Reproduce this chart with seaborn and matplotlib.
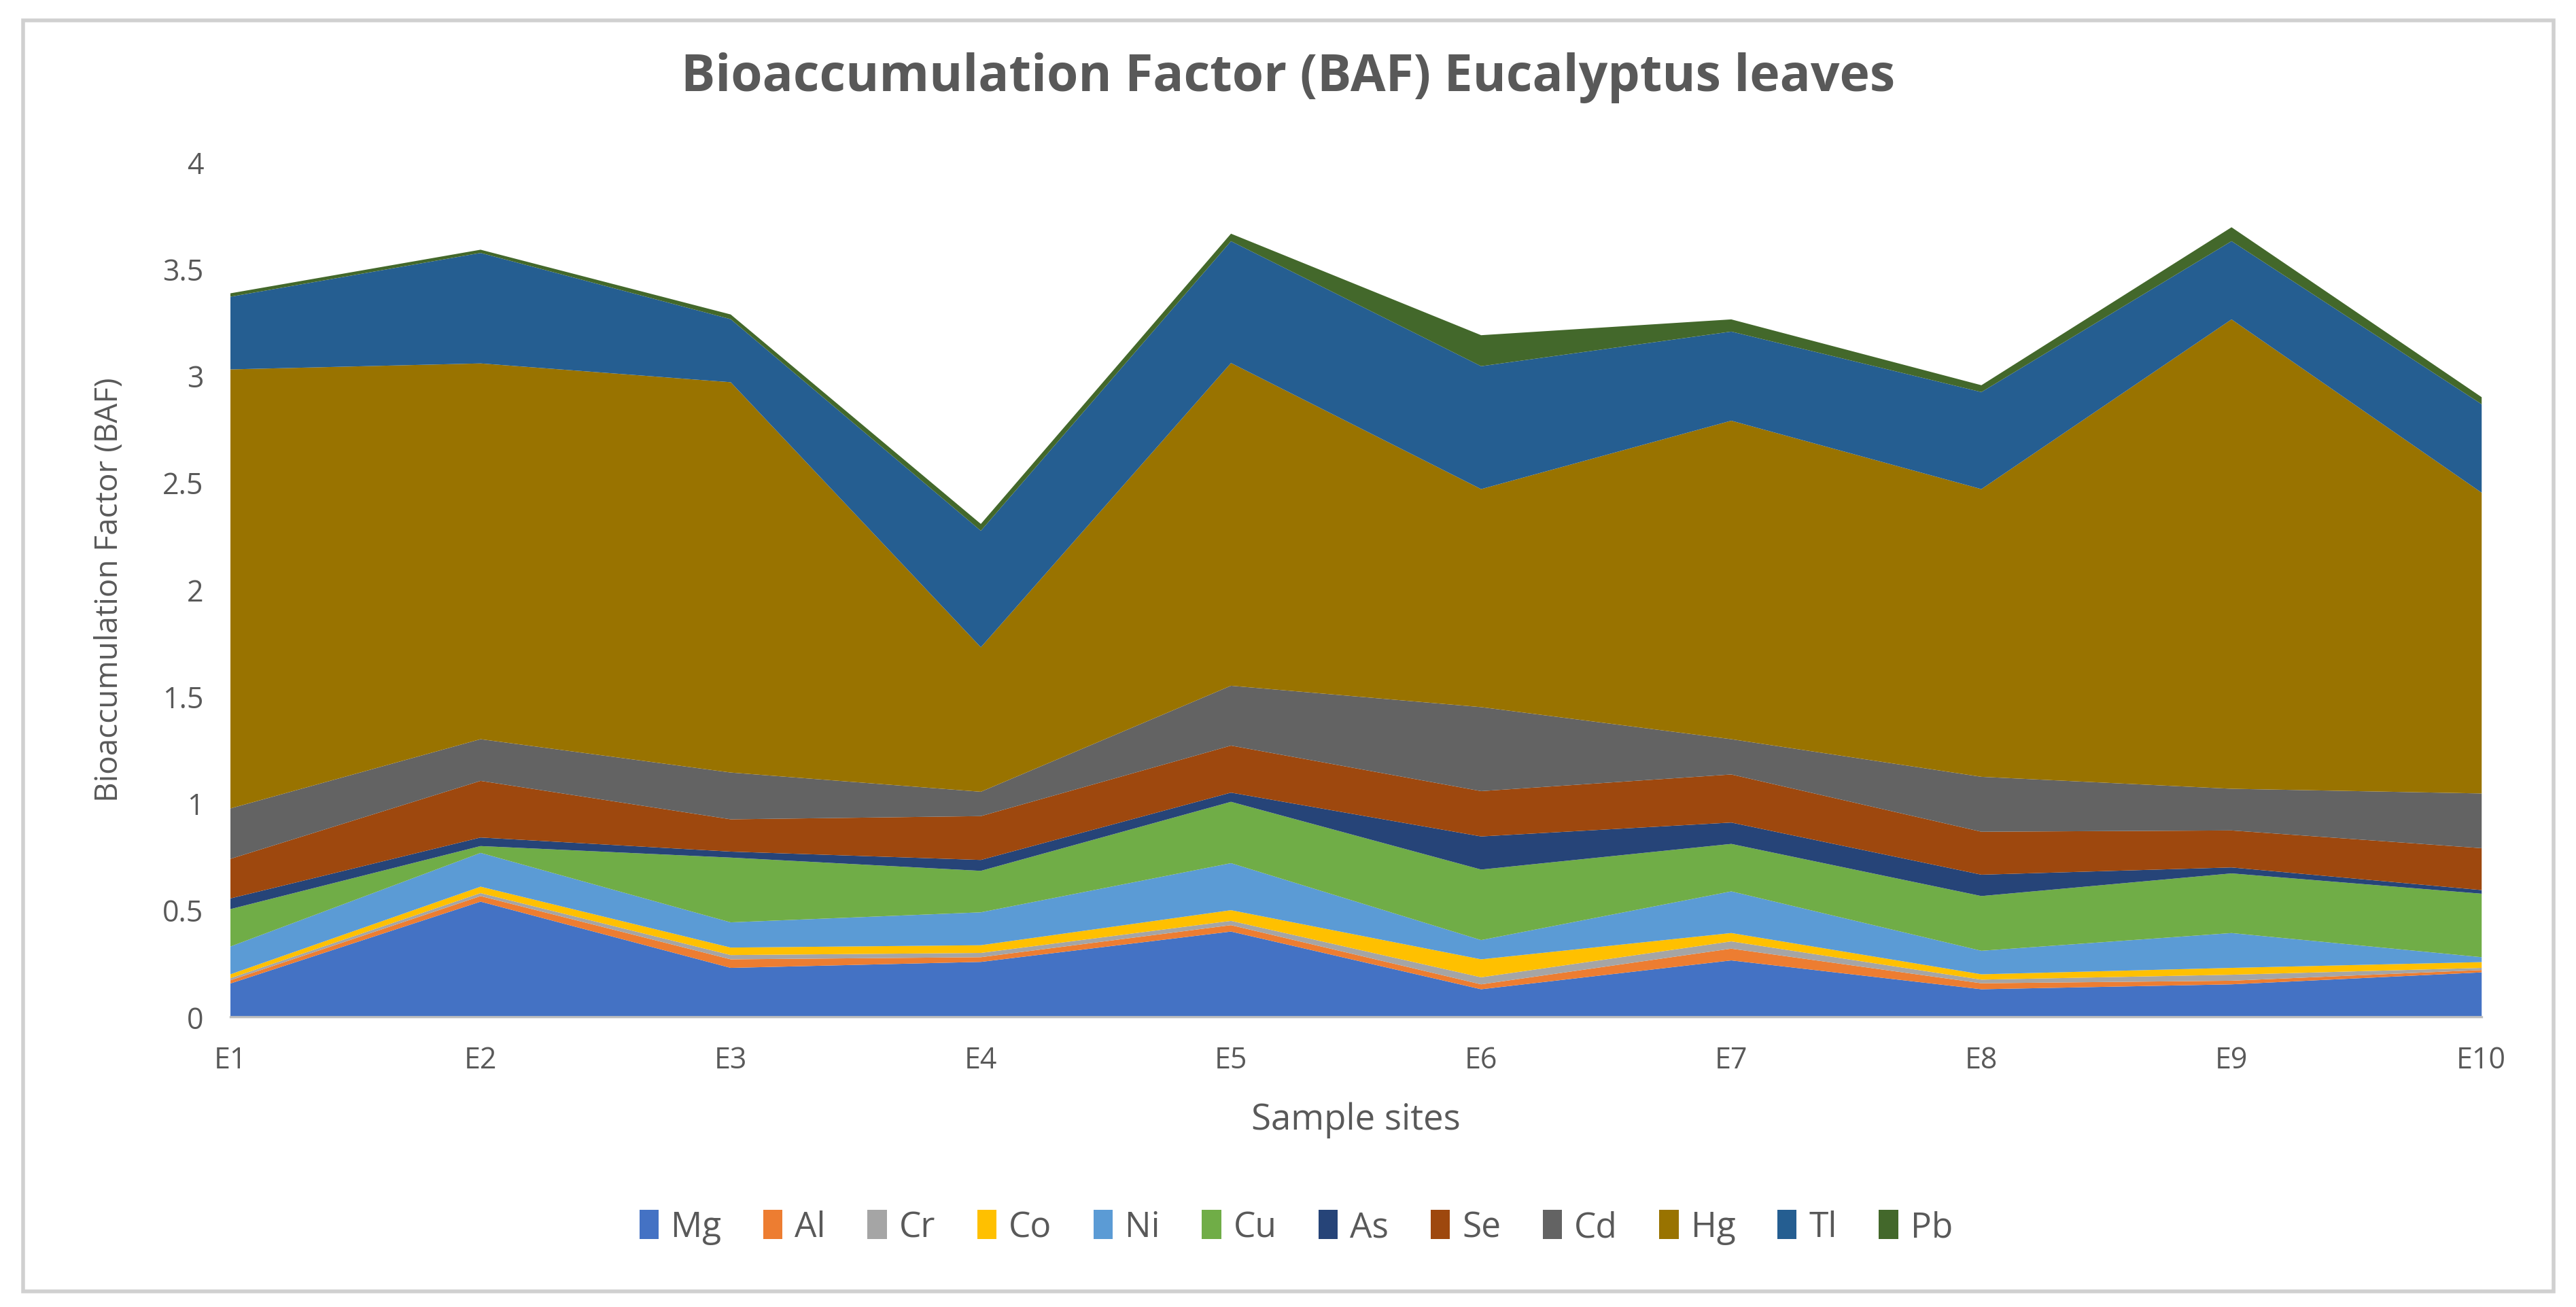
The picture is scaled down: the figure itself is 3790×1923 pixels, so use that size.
import numpy as np
import matplotlib
matplotlib.use("Agg")
import matplotlib.pyplot as plt
import seaborn as sns
from matplotlib.patches import Rectangle

# sample sites and per-element BAF values
sites = ["E1", "E2", "E3", "E4", "E5", "E6", "E7", "E8", "E9", "E10"]
elements = ["Mg", "Al", "Cr", "Co", "Ni", "Cu", "As", "Se", "Cd", "Hg", "Tl", "Pb"]

Mg = [0.157, 0.540, 0.230, 0.258, 0.400, 0.130, 0.265, 0.130, 0.153, 0.209]
Al = [0.015, 0.026, 0.040, 0.022, 0.030, 0.023, 0.055, 0.028, 0.017, 0.011]
Cr = [0.010, 0.014, 0.020, 0.020, 0.020, 0.033, 0.034, 0.017, 0.028, 0.010]
Co = [0.018, 0.030, 0.035, 0.036, 0.050, 0.084, 0.039, 0.025, 0.032, 0.027]
Ni = [0.130, 0.158, 0.118, 0.154, 0.220, 0.090, 0.195, 0.110, 0.163, 0.023]
Cu = [0.175, 0.032, 0.303, 0.194, 0.287, 0.330, 0.222, 0.256, 0.279, 0.297]
As = [0.050, 0.040, 0.028, 0.051, 0.043, 0.155, 0.100, 0.100, 0.028, 0.017]
Se = [0.185, 0.265, 0.151, 0.205, 0.220, 0.212, 0.225, 0.201, 0.173, 0.196]
Cd = [0.236, 0.195, 0.219, 0.114, 0.280, 0.393, 0.165, 0.257, 0.195, 0.256]
Hg = [2.054, 1.758, 1.826, 0.676, 1.510, 1.020, 1.490, 1.346, 2.196, 1.407]
Tl = [0.340, 0.517, 0.295, 0.545, 0.570, 0.575, 0.417, 0.454, 0.366, 0.414]
Pb = [0.016, 0.015, 0.022, 0.032, 0.035, 0.145, 0.057, 0.032, 0.065, 0.033]

colors = ["#4472C4", "#ED7D31", "#A5A5A5", "#FFC000", "#5B9BD5", "#70AD47",
          "#264478", "#9E480E", "#636363", "#997300", "#255E91", "#43682B"]

sns.set_theme(style="white")
plt.rcParams['font.family'] = ['Open Sans', 'DejaVu Sans']
pal = sns.color_palette(colors)

fig = plt.figure(figsize=(18.955, 9.62), dpi=200)
ax = fig.add_axes([0.0893, 0.222, 0.9630 - 0.0893, 0.8758 - 0.222])

x = np.arange(len(sites))
ax.stackplot(x, Mg, Al, Cr, Co, Ni, Cu, As, Se, Cd, Hg, Tl, Pb,
             labels=elements, colors=pal, linewidth=0)

ax.set_xlim(0, len(sites) - 1)
ax.set_ylim(0, 4)
ax.set_xticks(x)
ax.set_xticklabels(sites)
yt = np.arange(0, 4.01, 0.5)
ax.set_yticks(yt)
ax.set_yticklabels([f"{v:g}" for v in yt])

txt = "#595959"
ax.tick_params(axis="x", colors="#BFBFBF", length=9, width=1.2, direction="out",
               labelcolor=txt, labelsize=15.5, pad=6)
ax.tick_params(axis="y", length=0, labelcolor=txt, labelsize=15.5, pad=14)
sns.despine(ax=ax, left=True, top=True, right=True)
ax.spines["bottom"].set_color("#BFBFBF")
ax.spines["bottom"].set_linewidth(1.2)

ax.set_xlabel("Sample sites", fontsize=19, color=txt, labelpad=14)
ax.set_ylabel("Bioaccumulation Factor (BAF)", fontsize=16.5, color=txt, labelpad=20)

fig.suptitle("Bioaccumulation Factor (BAF) Eucalyptus leaves", x=0.5, y=0.96,
             fontsize=27, fontweight="bold", color=txt)

ax.legend(loc="center", bbox_to_anchor=(0.503, 0.061), bbox_transform=fig.transFigure,
          ncol=12, frameon=False, fontsize=18.5, handlelength=0.55, handleheight=0.9,
          handletextpad=0.35, columnspacing=1.2, labelcolor=txt)

# light border round the chart area
fig.patches.append(Rectangle((0.009, 0.012), 0.982, 0.972, transform=fig.transFigure,
                             fill=False, edgecolor="#D0D0D0", linewidth=2))

fig.savefig("out.png", dpi=200, facecolor="white")
